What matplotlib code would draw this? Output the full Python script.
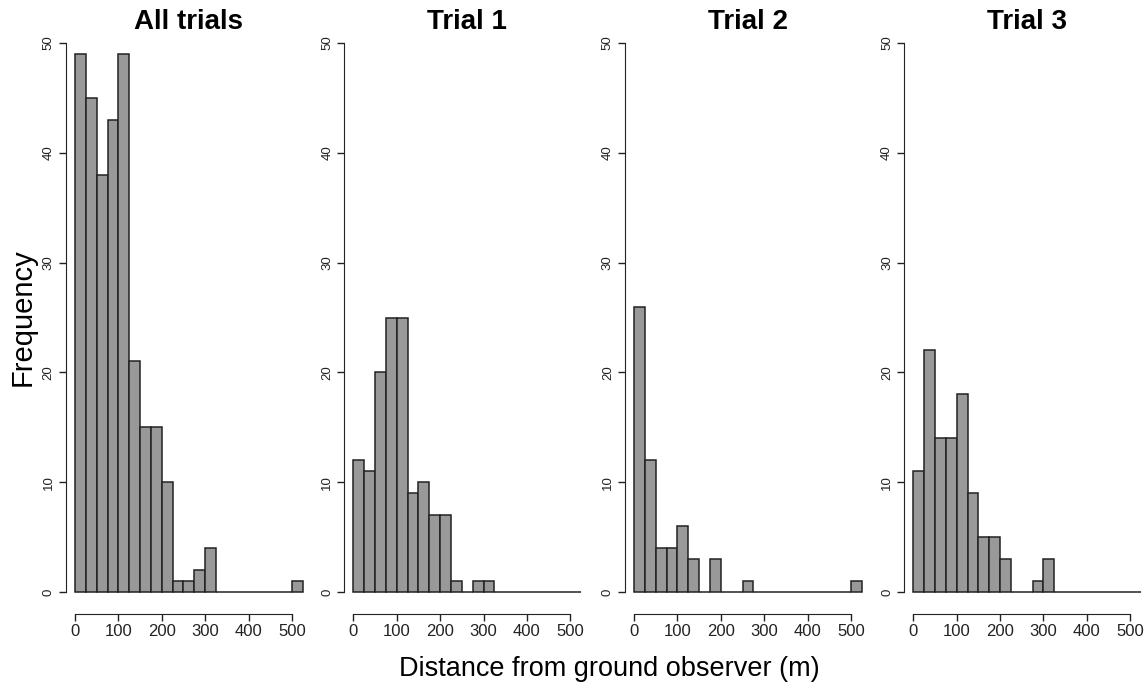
import numpy as np
import matplotlib
matplotlib.use("Agg")
import matplotlib.pyplot as plt

# ---- data (bin width 25 m, 0..525) ----
bin_edges = list(range(0, 550, 25))
titles = ["All trials", "Trial 1", "Trial 2", "Trial 3"]
all_trials = [49, 45, 38, 43, 49, 21, 15, 15, 10, 1, 1, 2, 4, 0, 0, 0, 0, 0, 0, 0, 1]
trial1 = [12, 11, 20, 25, 25, 9, 10, 7, 7, 1, 0, 1, 1, 0, 0, 0, 0, 0, 0, 0, 0]
trial2 = [26, 12, 4, 4, 6, 3, 0, 3, 0, 0, 1, 0, 0, 0, 0, 0, 0, 0, 0, 0, 1]
trial3 = [11, 22, 14, 14, 18, 9, 5, 5, 3, 0, 0, 1, 3, 0, 0, 0, 0, 0, 0, 0, 0]
series = [all_trials, trial1, trial2, trial3]
x_ticks = [0, 100, 200, 300, 400, 500]
y_ticks = [0, 10, 20, 30, 40, 50]

W, H = 1144, 687
plt.rcParams['font.family'] = ['Liberation Sans', 'DejaVu Sans']
fig = plt.figure(figsize=(W / 100, H / 100), dpi=100)

lefts_px = [65.9, 344.3, 625.0, 904.2]
width_px = 246.0
top_px, bottom_px = 21.0, 614.0

for i, (title, counts) in enumerate(zip(titles, series)):
    ax = fig.add_axes([lefts_px[i] / W, 1 - bottom_px / H, width_px / W, (bottom_px - top_px) / H])
    edges = np.array(bin_edges)
    ax.bar(edges[:-1], counts, width=np.diff(edges), align='edge',
           color='#999999', edgecolor='#222222', linewidth=1.1)
    ax.set_xlim(-21, 546)
    ax.set_ylim(-2, 52)
    for s in ['top', 'right']:
        ax.spines[s].set_visible(False)
    ax.spines['left'].set_bounds(0, 50)
    ax.spines['bottom'].set_bounds(0, 500)
    ax.spines['left'].set_color('#222222')
    ax.spines['bottom'].set_color('#222222')
    ax.set_xticks(x_ticks)
    ax.set_yticks(y_ticks)
    ax.tick_params(axis='x', length=5, width=1, labelsize=12, pad=2, colors='#222222')
    ax.tick_params(axis='y', length=5, width=1, labelsize=9.5, pad=3, colors='#222222')
    for lab in ax.get_yticklabels():
        lab.set_rotation(90)
        lab.set_va('center')
    ax.patch.set_visible(False)
    cx = (lefts_px[i] + width_px / 2) / W
    fig.text(cx, 1 - 22 / H, title, fontsize=20, fontweight='bold',
             ha='center', va='center')

fig.text(23 / W, 1 - 317.5 / H, "Frequency", rotation=90, fontsize=21,
         ha='center', va='center')
fig.text(609 / W, 1 - 669 / H, "Distance from ground observer (m)", fontsize=19.5,
         ha='center', va='center')

fig.savefig("out.png", dpi=100)
